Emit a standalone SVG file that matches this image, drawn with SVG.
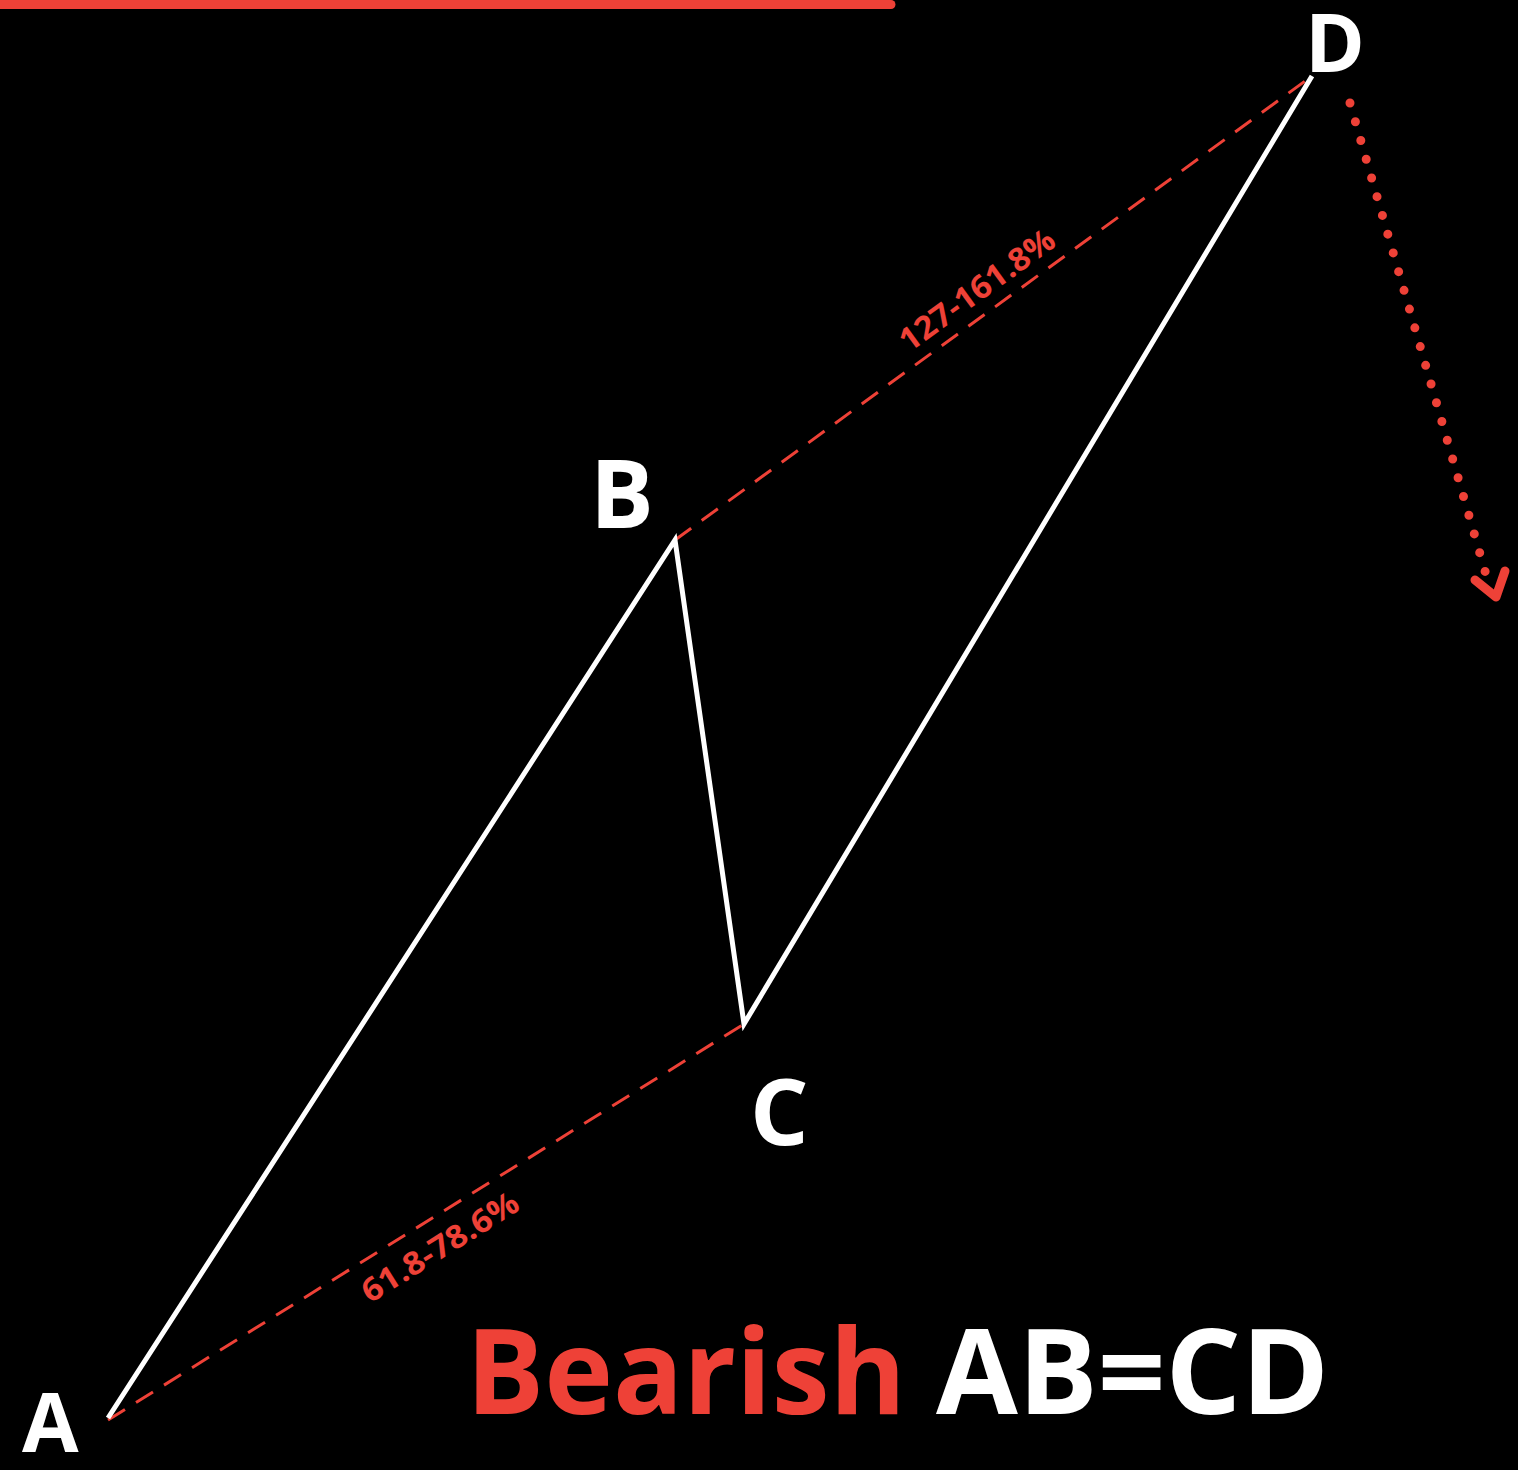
<svg xmlns="http://www.w3.org/2000/svg" width="1518" height="1470" viewBox="0 0 1518 1470">
<defs>
<style>
.lbl{font-family:"Open Sans","Liberation Sans",sans-serif;font-weight:700;fill:#ffffff}
.ratio{font-family:"Open Sans","Liberation Sans",sans-serif;font-weight:700;fill:#EE4137;font-size:32px}
.dash{stroke:#EE4137;stroke-width:3;stroke-dasharray:20 13;fill:none}
.leg{stroke:#ffffff;stroke-width:5;fill:none;stroke-linejoin:miter}
.title{font-family:"Open Sans","Liberation Sans",sans-serif;font-weight:700;font-size:118px}
</style>
</defs>
<rect x="0" y="0" width="1518" height="1470" fill="#000000"/>
<path d="M0,0 H891 A4.5,4.5 0 0 1 891,9 H0 Z" fill="#EE4137"/>
<g id="connectors">
<line class="dash" x1="108" y1="1420" x2="744" y2="1024"/>
<line class="dash" x1="675" y1="540" x2="1312" y2="76"/>
<polyline class="leg" points="108,1418 675,540 744,1024 1312,76"/>
<line x1="1350" y1="103" x2="1487" y2="578" stroke="#EE4137" stroke-width="9" stroke-linecap="round" stroke-dasharray="0 19.5"/>
<polyline points="1475,580 1496,597 1505,571" fill="none" stroke="#EE4137" stroke-width="9" stroke-linecap="round" stroke-linejoin="round"/>
</g>
<g id="ratio-bd"><text class="ratio" transform="translate(977,290) rotate(-36)" text-anchor="middle" textLength="184" lengthAdjust="spacingAndGlyphs" dy="11">127-161.8%</text></g>
<g id="ratio-ac"><text class="ratio" transform="translate(440,1247) rotate(-32)" text-anchor="middle" textLength="179" lengthAdjust="spacingAndGlyphs" dy="11">61.8-78.6%</text></g>
<g id="node-A"><text class="lbl" x="22" y="1452" font-size="82">A</text></g>
<g id="node-B"><text class="lbl" x="590" y="528" font-size="95">B</text></g>
<g id="node-C"><text class="lbl" x="750" y="1145" font-size="92">C</text></g>
<g id="node-D"><text class="lbl" x="1305" y="72" font-size="81">D</text></g>
<g id="title"><text class="title" y="1414"><tspan x="466" fill="#EE4137" textLength="440" lengthAdjust="spacingAndGlyphs">Bearish</tspan><tspan x="936" fill="#ffffff" textLength="393" lengthAdjust="spacingAndGlyphs">AB=CD</tspan></text></g>
</svg>
